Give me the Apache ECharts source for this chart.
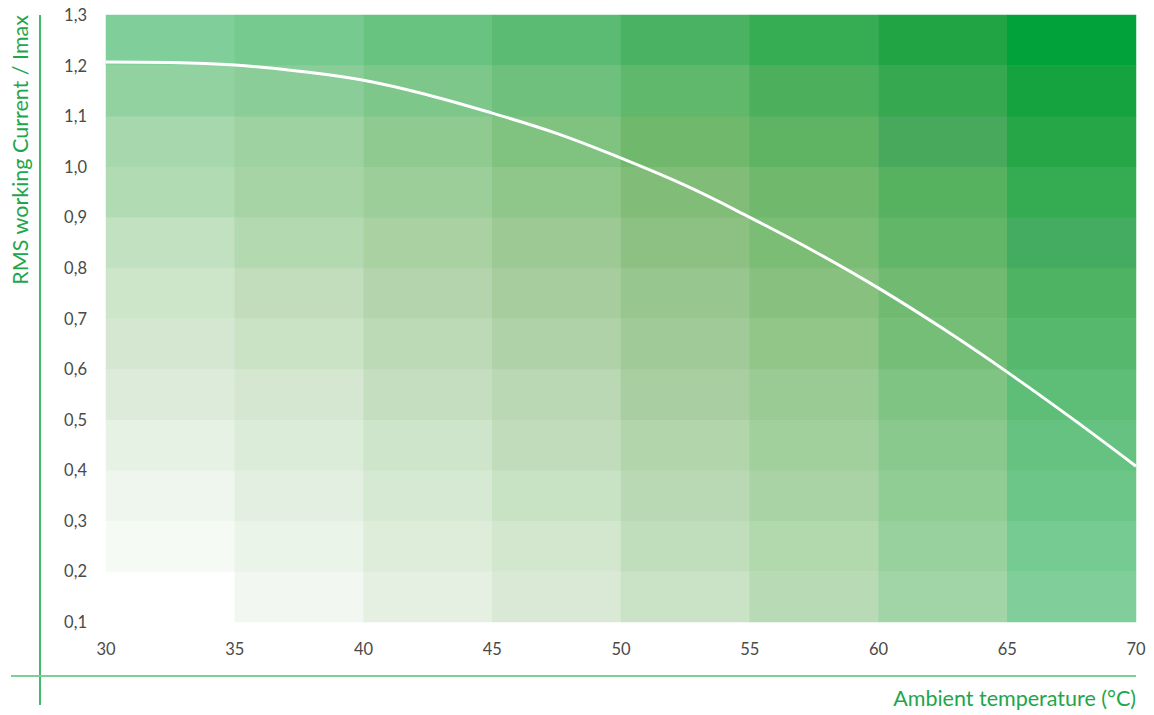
<!DOCTYPE html>
<html>
<head>
<meta charset="utf-8">
<script src="https://cdn.jsdelivr.net/npm/echarts@6/dist/echarts.min.js"></script>
<style>
html,body{margin:0;padding:0;background:#fff;}
#chart{width:1154px;height:715px;}
</style>
</head>
<body>
<div id="chart"></div>
<script>
// Temperature bands (columns) and current bands (rows, bottom to top)
var tempBands = ['30-35','35-40','40-45','45-50','50-55','55-60','60-65','65-70'];
var currentBands = ['0.1-0.2','0.2-0.3','0.3-0.4','0.4-0.5','0.5-0.6','0.6-0.7','0.7-0.8','0.8-0.9','0.9-1.0','1.0-1.1','1.1-1.2','1.2-1.3'];

// Brightness of each background cell (1 = white), rows from bottom
var lightRow0  = [1.000, 0.957, 0.916, 0.875, 0.833, 0.784, 0.733, 0.657];
var lightRow1  = [0.971, 0.935, 0.892, 0.859, 0.802, 0.765, 0.708, 0.631];
var lightRow2  = [0.947, 0.912, 0.871, 0.827, 0.778, 0.735, 0.682, 0.598];
var lightRow3  = [0.922, 0.886, 0.847, 0.796, 0.753, 0.714, 0.663, 0.580];
var lightRow4  = [0.890, 0.863, 0.812, 0.775, 0.720, 0.688, 0.635, 0.555];
var lightRow5  = [0.863, 0.831, 0.786, 0.741, 0.696, 0.655, 0.600, 0.527];
var lightRow6  = [0.847, 0.800, 0.753, 0.710, 0.669, 0.627, 0.586, 0.506];
var lightRow7  = [0.818, 0.769, 0.729, 0.684, 0.635, 0.602, 0.549, 0.471];
var lightRow8  = [0.776, 0.737, 0.704, 0.659, 0.604, 0.571, 0.520, 0.443];
var lightRow9  = [0.751, 0.720, 0.676, 0.631, 0.575, 0.537, 0.473, 0.402];
var lightRow10 = [0.698, 0.673, 0.637, 0.592, 0.547, 0.492, 0.433, 0.359];
var lightRow11 = [0.657, 0.627, 0.586, 0.545, 0.496, 0.445, 0.388, 0.318];
var lightRows = [lightRow0, lightRow1, lightRow2, lightRow3, lightRow4, lightRow5,
                 lightRow6, lightRow7, lightRow8, lightRow9, lightRow10, lightRow11];

// Tint index of each background cell (0 = olive ... 5 = mint ... 8 = pure green), rows from bottom
var tintRow0  = [1.0, 0.3, 0.3, 0.3, 1.0, 1.3, 2.8, 5.0];
var tintRow1  = [0.6, 0.6, 0.5, 0.7, 0.8, 1.2, 2.7, 5.0];
var tintRow2  = [0.8, 0.8, 0.8, 0.8, 0.7, 1.2, 2.7, 4.8];
var tintRow3  = [0.8, 0.6, 0.7, 0.4, 0.5, 1.2, 2.5, 4.5];
var tintRow4  = [0.3, 0.5, 0.3, 0.5, 0.4, 1.0, 2.3, 4.2];
var tintRow5  = [0.3, 0.8, 0.4, 0.3, 0.7, 1.0, 2.3, 4.0];
var tintRow6  = [1.2, 0.6, 0.2, 0.2, 0.5, 1.0, 2.1, 3.8];
var tintRow7  = [1.8, 1.4, 0.9, 0.5, 0.7, 1.3, 2.4, 4.5];
var tintRow8  = [2.3, 1.6, 1.5, 1.3, 0.9, 1.5, 2.6, 6.0];
var tintRow9  = [2.8, 2.3, 2.1, 1.9, 1.6, 2.3, 3.6, 6.65];
var tintRow10 = [4.0, 3.7, 3.2, 3.2, 3.0, 3.2, 6.0, 7.35];
var tintRow11 = [5.0, 4.7, 4.5, 4.0, 4.0, 6.0, 7.0, 8.0];
var tintRows = [tintRow0, tintRow1, tintRow2, tintRow3, tintRow4, tintRow5,
                tintRow6, tintRow7, tintRow8, tintRow9, tintRow10, tintRow11];

// Derating curve
var curveTemps   = [30, 32.5, 35, 37.5, 40, 42.5, 45, 47.5, 50, 52.5, 55, 57.5, 60, 62.5, 65, 67.5, 70];
var curveCurrent = [1.207, 1.206, 1.201, 1.189, 1.171, 1.142, 1.106, 1.066, 1.017, 0.963, 0.900, 0.833, 0.760, 0.680, 0.594, 0.503, 0.408];

// Axis ranges
var tempMin = 30, tempMax = 70, tempStep = 5;
var currMin = 0.1, currMax = 1.3, currStep = 0.1;

var heatData = [];
tintRows.forEach(function (row, r) {
  row.forEach(function (t, c) { heatData.push([c, r, t, lightRows[r][c]]); });
});
var lineData = curveTemps.map(function (t, i) { return [t, curveCurrent[i]]; });

// Tint scale (hue / saturation); lightness is applied per cell afterwards
var tintPalette = ['hsl(108,30%,50%)','hsl(112,35%,50%)','hsl(120,36%,50%)','hsl(128,38.5%,50%)',
                   'hsl(134,41%,50%)','hsl(140,45%,50%)','hsl(134,52%,50%)','hsl(136,66%,50%)','hsl(141,100%,50%)'];

var labelFont = 'Lato, "Noto Sans", sans-serif';
var green = '#1ea64c';

var chart = echarts.init(document.getElementById('chart'), null, {renderer: 'svg'});
chart.setOption({
  animation: false,
  backgroundColor: '#ffffff',
  grid: {left: 106, right: 18, top: 15, bottom: 93, containLabel: false},
  visualMap: [
    {show: false, type: 'continuous', min: 0, max: 8, dimension: 2, seriesIndex: 0,
     inRange: {color: tintPalette}},
    {show: false, type: 'continuous', min: 0, max: 1, dimension: 3, seriesIndex: 0,
     inRange: {colorLightness: [0, 1]}}
  ],
  xAxis: [
    {type: 'category', data: tempBands, show: false, boundaryGap: true},
    {type: 'value', min: tempMin, max: tempMax, interval: tempStep, position: 'bottom',
     axisLine: {show: false}, axisTick: {show: false}, splitLine: {show: false},
     axisLabel: {color: '#4a4a4a', fontSize: 16.5, fontFamily: labelFont, margin: 18}}
  ],
  yAxis: [
    {type: 'category', data: currentBands, show: false, boundaryGap: true},
    {type: 'value', min: currMin, max: currMax, interval: currStep, position: 'left',
     axisLine: {show: false}, axisTick: {show: false}, splitLine: {show: false},
     axisLabel: {color: '#4a4a4a', fontSize: 16.5, fontFamily: labelFont, margin: 19,
       formatter: function (v) { return v.toFixed(1).replace('.', ','); }}}
  ],
  series: [
    {type: 'heatmap', xAxisIndex: 0, yAxisIndex: 0, data: heatData,
     itemStyle: {borderWidth: 0}, emphasis: {disabled: true}, silent: true},
    {type: 'line', xAxisIndex: 1, yAxisIndex: 1, data: lineData, smooth: 0.4,
     symbol: 'none', lineStyle: {color: '#ffffff', width: 3}, silent: true, z: 5}
  ],
  graphic: [
    {type: 'line', shape: {x1: 40, y1: 15, x2: 40, y2: 705}, style: {stroke: '#00a33a', lineWidth: 1.5}, silent: true},
    {type: 'line', shape: {x1: 11, y1: 676, x2: 1136, y2: 676}, style: {stroke: '#7dcf98', lineWidth: 2}, silent: true},
    {type: 'text', x: 20, y: 15, rotation: Math.PI / 2,
     style: {text: 'RMS working Current / Imax', fill: green, font: '21.5px ' + labelFont,
       textAlign: 'right', textVerticalAlign: 'middle'}},
    {type: 'text', x: 1136, y: 698,
     style: {text: 'Ambient temperature (°C)', fill: green, font: '21.5px ' + labelFont,
       textAlign: 'right', textVerticalAlign: 'middle'}}
  ]
});
</script>
</body>
</html>
